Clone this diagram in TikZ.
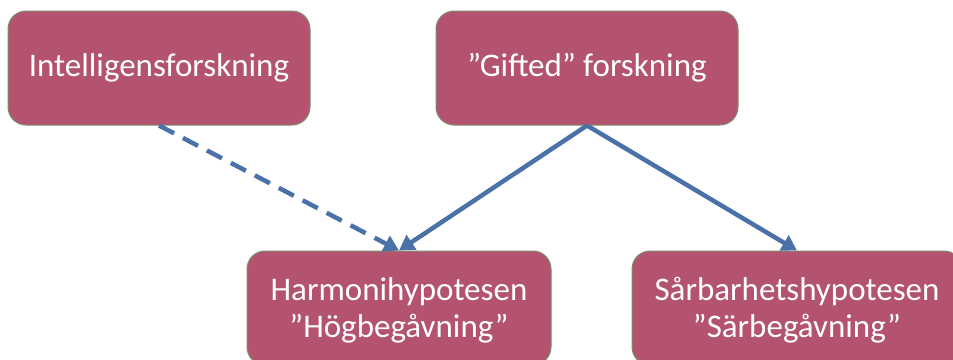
\documentclass[tikz,border=0pt]{standalone}
\usepackage{fontspec}
\setmainfont{Carlito}
\usetikzlibrary{arrows.meta}
\definecolor{boxfill}{HTML}{B35370}
\definecolor{boxline}{HTML}{7F8C6A}
\definecolor{arrowc}{HTML}{4A72A8}
\tikzset{
  box/.style={draw=boxline, line width=1pt, fill=boxfill, rounded corners=18pt, text=white,
    font=\fontsize{33}{36}\selectfont, align=center, inner sep=0pt},
  conn/.style={draw=arrowc, line width=4.5pt, -{Triangle[length=15pt,width=17pt]}},
}
\begin{document}
\begin{tikzpicture}[x=1pt,y=-1pt]
\useasboundingbox (0,0) rectangle (953,359);
\clip (0,0) rectangle (953,359);
\node[box, minimum width=302pt, minimum height=114pt] (a) at (159,68) {Intelligensforskning};
\node[box, minimum width=302pt, minimum height=114pt] (b) at (587,68) {”Gifted” forskning};
\node[box, minimum width=304pt, minimum height=114pt] (c) at (399,308) {\raisebox{-4pt}[\height][\depth]{\begin{tabular}{@{}c@{}}Harmonihypotesen\\[1pt]”Högbegåvning”\end{tabular}}};
\node[box, minimum width=330pt, minimum height=114pt] (d) at (797,308) {\raisebox{-4pt}[\height][\depth]{\begin{tabular}{@{}c@{}}Sårbarhetshypotesen\\[1pt]”Särbegåvning”\end{tabular}}};
\draw[conn, dash pattern=on 17pt off 10pt] (a.south) -- (c.north);
\draw[conn] (b.south) -- (c.north);
\draw[conn] (b.south) -- (d.north);
\end{tikzpicture}
\end{document}
